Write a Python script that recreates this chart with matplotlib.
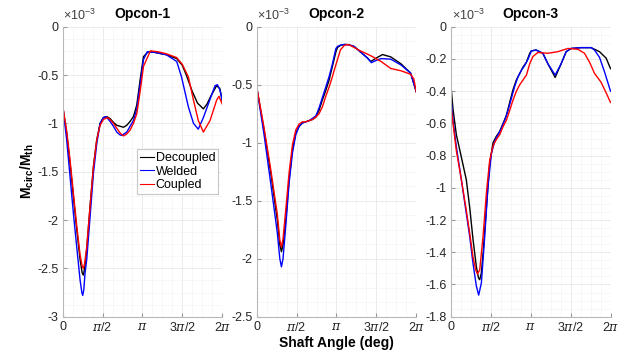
import numpy as np
import matplotlib
matplotlib.use("Agg")
import matplotlib.pyplot as plt
from matplotlib.ticker import MultipleLocator, FormatStrFormatter

plt.rcParams['font.family'] = ['Liberation Sans', 'DejaVu Sans']
plt.rcParams['mathtext.fontset'] = 'custom'
plt.rcParams['mathtext.rm'] = 'Liberation Sans'
plt.rcParams['mathtext.bf'] = 'Liberation Sans:bold'
plt.rcParams['mathtext.it'] = 'DejaVu Serif:italic'
plt.rcParams['axes.unicode_minus'] = False

# shaft angle in units of pi, moment ratio in units of 1e-3
# --- Opcon-1
t1_dec = [0, 0.05, 0.092, 0.134, 0.176, 0.218, 0.245, 0.259, 0.275, 0.301, 0.343, 0.385, 0.427,
          0.469, 0.510, 0.552, 0.594, 0.636, 0.678, 0.720, 0.762, 0.803, 0.845, 0.887, 0.929,
          0.971, 1.013, 1.07, 1.15, 1.30, 1.43, 1.50, 1.55, 1.62, 1.69, 1.764, 1.81, 1.85,
          1.93, 1.97, 2.0]
v1_dec = [-0.82, -1.10, -1.41, -1.76, -2.10, -2.41, -2.55, -2.57, -2.50, -2.31, -1.86, -1.45, -1.17,
          -1.00, -0.94, -0.93, -0.95, -0.99, -1.02, -1.03, -1.04, -1.02, -0.98, -0.93, -0.81,
          -0.55, -0.31, -0.26, -0.265, -0.29, -0.33, -0.40, -0.50, -0.66, -0.79, -0.85, -0.80, -0.73,
          -0.61, -0.64, -0.76]
t1_wel = [0, 0.05, 0.092, 0.134, 0.176, 0.218, 0.240, 0.251, 0.265, 0.28, 0.301, 0.343, 0.385,
          0.427, 0.469, 0.510, 0.544, 0.594, 0.636, 0.678, 0.720, 0.741, 0.803, 0.845, 0.887,
          0.929, 0.971, 1.013, 1.06, 1.15, 1.30, 1.43, 1.49, 1.576, 1.64, 1.70, 1.764,
          1.848, 1.91, 1.94, 1.97, 2.0]
v1_wel = [-0.82, -1.17, -1.55, -1.93, -2.28, -2.62, -2.75, -2.78, -2.72, -2.55, -2.41, -1.97, -1.52,
          -1.21, -1.00, -0.94, -0.93, -0.98, -1.03, -1.09, -1.12, -1.125, -1.09, -1.03, -0.97,
          -0.85, -0.60, -0.34, -0.26, -0.265, -0.29, -0.36, -0.52, -0.83, -1.00, -1.06, -0.94,
          -0.75, -0.61, -0.60, -0.65, -0.76]
t1_cou = [0, 0.05, 0.092, 0.134, 0.176, 0.218, 0.245, 0.259, 0.275, 0.301, 0.343, 0.385, 0.427,
          0.469, 0.510, 0.561, 0.594, 0.636, 0.678, 0.720, 0.762, 0.803, 0.845, 0.887, 0.929,
          0.971, 1.013, 1.10, 1.20, 1.30, 1.43, 1.50, 1.576, 1.64, 1.70, 1.764, 1.848, 1.93,
          1.96, 2.0]
v1_cou = [-0.82, -1.08, -1.38, -1.72, -2.06, -2.36, -2.48, -2.50, -2.45, -2.28, -1.86, -1.45, -1.17,
          -1.02, -0.96, -0.94, -0.96, -1.00, -1.05, -1.10, -1.13, -1.11, -1.07, -1.00, -0.90,
          -0.67, -0.41, -0.25, -0.26, -0.28, -0.32, -0.39, -0.52, -0.76, -0.97, -1.09, -0.97,
          -0.76, -0.72, -0.80]

# --- Opcon-2
t2_dec = [0, 0.092, 0.176, 0.259, 0.29, 0.310, 0.33, 0.364, 0.406, 0.448, 0.490, 0.531, 0.573,
          0.615, 0.657, 0.699, 0.741, 0.782, 0.824, 0.866, 0.908, 0.950, 0.992, 1.013, 1.054,
          1.10, 1.15, 1.221, 1.305, 1.389, 1.43, 1.50, 1.577, 1.68, 1.81, 1.93, 2.0]
v2_dec = [-0.52, -0.89, -1.26, -1.67, -1.88, -1.94, -1.88, -1.67, -1.32, -1.06, -0.92, -0.86, -0.83,
          -0.82, -0.81, -0.80, -0.78, -0.72, -0.63, -0.55, -0.46, -0.34, -0.22, -0.18, -0.16,
          -0.153, -0.155, -0.17, -0.22, -0.27, -0.30, -0.27, -0.24, -0.26, -0.32, -0.40, -0.56]
t2_wel = [0, 0.092, 0.176, 0.259, 0.29, 0.310, 0.33, 0.364, 0.406, 0.448, 0.490, 0.531, 0.573,
          0.615, 0.657, 0.699, 0.741, 0.782, 0.824, 0.866, 0.908, 0.950, 0.992, 1.013, 1.054,
          1.10, 1.15, 1.221, 1.305, 1.389, 1.438, 1.50, 1.56, 1.68, 1.81, 1.93, 2.0]
v2_wel = [-0.52, -0.93, -1.35, -1.78, -2.00, -2.07, -2.00, -1.72, -1.35, -1.09, -0.93, -0.86, -0.83,
          -0.82, -0.81, -0.79, -0.77, -0.70, -0.61, -0.52, -0.43, -0.32, -0.19, -0.17, -0.158,
          -0.153, -0.155, -0.17, -0.22, -0.27, -0.31, -0.29, -0.275, -0.28, -0.33, -0.40, -0.56]
t2_cou = [0, 0.092, 0.176, 0.259, 0.29, 0.310, 0.33, 0.364, 0.406, 0.448, 0.490, 0.531, 0.573,
          0.615, 0.657, 0.699, 0.741, 0.782, 0.824, 0.866, 0.908, 0.950, 0.97, 1.01, 1.05,
          1.10, 1.15, 1.305, 1.43, 1.56, 1.68, 1.81, 1.93, 1.97, 2.0]
v2_cou = [-0.52, -0.87, -1.23, -1.62, -1.84, -1.90, -1.83, -1.58, -1.26, -1.02, -0.89, -0.84, -0.82,
          -0.82, -0.81, -0.80, -0.78, -0.75, -0.69, -0.60, -0.52, -0.43, -0.38, -0.29, -0.20,
          -0.16, -0.153, -0.21, -0.25, -0.30, -0.36, -0.38, -0.41, -0.45, -0.56]

# --- Opcon-3
t3_dec = [0, 0.025, 0.067, 0.130, 0.192, 0.234, 0.276, 0.318, 0.345, 0.360, 0.380, 0.402, 0.444,
          0.485, 0.527, 0.569, 0.611, 0.653, 0.695, 0.736, 0.778, 0.820, 0.862, 0.904, 0.946,
          0.987, 1.008, 1.068, 1.152, 1.215, 1.306, 1.381, 1.444, 1.507, 1.632, 1.757, 1.862,
          1.945, 2.0]
v3_dec = [-0.37, -0.51, -0.67, -0.81, -0.95, -1.12, -1.32, -1.49, -1.56, -1.57, -1.53, -1.41, -1.12,
          -0.85, -0.72, -0.68, -0.65, -0.60, -0.55, -0.47, -0.39, -0.33, -0.29, -0.25, -0.22,
          -0.165, -0.15, -0.145, -0.165, -0.23, -0.315, -0.23, -0.155, -0.135, -0.13, -0.13, -0.155,
          -0.195, -0.26]
t3_wel = [0, 0.025, 0.067, 0.130, 0.192, 0.234, 0.276, 0.318, 0.347, 0.381, 0.423, 0.464, 0.506,
          0.548, 0.590, 0.632, 0.674, 0.715, 0.757, 0.799, 0.841, 0.883, 0.925, 0.967, 1.008,
          1.068, 1.152, 1.215, 1.306, 1.381, 1.444, 1.507, 1.632, 1.757, 1.80, 1.862, 1.925,
          2.0]
v3_wel = [-0.445, -0.58, -0.745, -0.95, -1.16, -1.30, -1.47, -1.61, -1.666, -1.59, -1.30, -0.99, -0.79,
          -0.71, -0.67, -0.63, -0.58, -0.52, -0.445, -0.37, -0.31, -0.27, -0.24, -0.20, -0.15,
          -0.145, -0.165, -0.23, -0.30, -0.23, -0.155, -0.135, -0.13, -0.13, -0.145, -0.19, -0.28,
          -0.40]
t3_cou = [0, 0.025, 0.067, 0.130, 0.192, 0.234, 0.276, 0.310, 0.331, 0.360, 0.402, 0.444, 0.485,
          0.527, 0.569, 0.611, 0.653, 0.695, 0.736, 0.778, 0.820, 0.862, 0.904, 0.946, 0.987,
          1.027, 1.09, 1.215, 1.34, 1.465, 1.59, 1.674, 1.737, 1.80, 1.882, 1.945, 2.0]
v3_cou = [-0.49, -0.60, -0.77, -0.95, -1.14, -1.28, -1.43, -1.51, -1.535, -1.51, -1.30, -1.03, -0.83,
          -0.74, -0.70, -0.67, -0.62, -0.58, -0.52, -0.455, -0.40, -0.36, -0.33, -0.30, -0.23,
          -0.185, -0.16, -0.165, -0.155, -0.135, -0.14, -0.165, -0.22, -0.29, -0.345, -0.41, -0.47]

titles = ['Opcon-1', 'Opcon-2', 'Opcon-3']
labels = ['Decoupled', 'Welded', 'Coupled']
colors = ['k', '#0000ff', '#ff0000']
ylims = [(-3, 0), (-2.5, 0), (-1.8, 0)]
ysteps = [0.5, 0.5, 0.2]
xtick_labels = ['0', r'$\pi$/2', r'$\pi$', r'3$\pi$/2', r'2$\pi$']

panels = [
    [(t1_dec, v1_dec), (t1_wel, v1_wel), (t1_cou, v1_cou)],
    [(t2_dec, v2_dec), (t2_wel, v2_wel), (t2_cou, v2_cou)],
    [(t3_dec, v3_dec), (t3_wel, v3_wel), (t3_cou, v3_cou)],
]

W, H = 627, 356
fig = plt.figure(figsize=(W / 100, H / 100), dpi=100)
lefts = [62.7, 256.7, 451.0]
axw, top, bot = 159.5, 26.7, 316.7

axes = []
for i, left in enumerate(lefts):
    ax = fig.add_axes([left / W, 1 - bot / H, axw / W, (bot - top) / H])
    axes.append(ax)
    for (t, v), c, lab in zip(panels[i], colors, labels):
        ax.plot(np.array(t) * np.pi, v, color=c, lw=1.0, label=lab)

    ax.set_xlim(0, 2 * np.pi)
    ax.set_ylim(*ylims[i])
    ax.set_xticks(np.arange(5) * np.pi / 2)
    ax.set_xticklabels(xtick_labels)
    ax.xaxis.set_minor_locator(MultipleLocator(np.pi / 8))
    ax.yaxis.set_major_locator(MultipleLocator(ysteps[i]))
    ax.yaxis.set_major_formatter(FormatStrFormatter('%g'))
    ax.yaxis.set_minor_locator(MultipleLocator(ysteps[i] / 4))
    ax.grid(True, which='major', color='#e8e8e8', lw=0.6)
    ax.grid(True, which='minor', color='#f4f4f4', lw=0.5)
    ax.set_axisbelow(True)
    for s in ['top', 'right']:
        ax.spines[s].set_visible(False)
    for s in ['left', 'bottom']:
        ax.spines[s].set_color('#b8b8b8')
        ax.spines[s].set_linewidth(0.8)
    ax.tick_params(which='major', direction='in', length=3, color='#999999',
                   labelsize=9, labelcolor='#262626', pad=3)
    ax.tick_params(which='minor', length=0)
    ax.set_title(titles[i], fontsize=10, fontweight='bold', pad=6)
    ax.text(0.005, 1.012, r'$\times$10$^{-3}$', transform=ax.transAxes,
            ha='left', va='bottom', fontsize=9, color='#404040')

leg = axes[0].legend(loc='upper right', bbox_to_anchor=(218.3 / W, 1 - 149.3 / H),
                     bbox_transform=fig.transFigure, borderaxespad=0, fontsize=9,
                     handlelength=1.1, handletextpad=0.15, borderpad=0.25,
                     labelspacing=0.1, fancybox=False, framealpha=1)
leg.get_frame().set_edgecolor('#c8c8c8')
leg.get_frame().set_linewidth(0.8)
for line in leg.get_lines():
    line.set_linewidth(0.8)

fig.text(336.3 / W, 1 - 343 / H, 'Shaft Angle (deg)', ha='center', va='center',
         fontsize=10, fontweight='bold')
fig.text(27 / W, 1 - 171.7 / H, r'$\mathbf{M_{circ}/M_{th}}$', ha='center', va='center',
         rotation=90, fontsize=10)

fig.savefig('out.png', dpi=100)
